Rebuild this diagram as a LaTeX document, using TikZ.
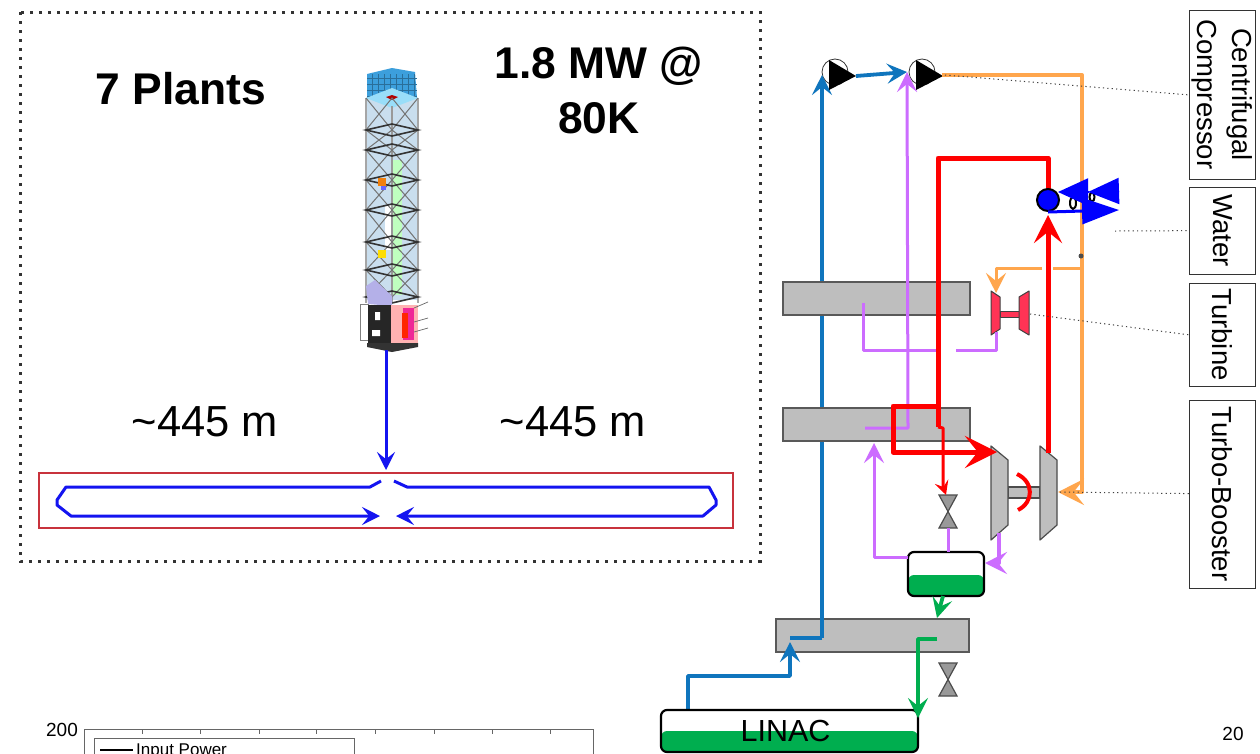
\documentclass[tikz,border=0pt]{standalone}
\usepackage{fontspec}
\setmainfont{Liberation Sans}
\usepackage{tikz}
\usetikzlibrary{arrows.meta,shapes.geometric}
\definecolor{pipeblue}{HTML}{0F75BD}
\definecolor{pipepurple}{HTML}{CC6CFF}
\definecolor{pipeorange}{HTML}{FFA64D}
\definecolor{pipegreen}{HTML}{00AE4F}
\definecolor{barfill}{HTML}{BEBEBE}
\definecolor{ringred}{HTML}{C8323C}
\definecolor{beamblue}{HTML}{1414F0}
\definecolor{turbred}{HTML}{FF3355}
\definecolor{towersky}{HTML}{C9DEEE}
\definecolor{towertop}{HTML}{3C9FDC}
\definecolor{towerlav}{HTML}{B4B0E8}

\begin{document}
\begin{tikzpicture}[x=1pt,y=-1pt,node distance=126pt,
    bar/.style={draw=black!65,fill=barfill,line width=1.2pt,minimum width=187pt,minimum height=33pt,inner sep=0pt},
    tag/.style={draw=black!80,line width=1pt,rotate=-90,inner sep=0pt,align=center,minimum height=66pt,font=\fontsize{27.5}{35}\selectfont},
    big/.style={font=\fontsize{44.4}{55}\selectfont\bfseries,align=center},
    dist/.style={font=\fontsize{43.5}{48}\selectfont},
    tank/.style={draw=black,line width=2.2pt,rounded corners=6pt,inner sep=0pt},
    comp/.style={circle,draw=black!80,line width=.8pt,minimum size=26pt,inner sep=0pt},
    metal/.style={draw=black!70,fill=barfill,line width=1.2pt,line join=round},
    hot metal/.style={draw=black!75,fill=turbred,line width=1pt,line join=round},
    tired/.style={draw=black!70,fill=black!40,line width=1.2pt},
    leader/.style={draw=black!75,line width=1pt,dash pattern=on 1.2pt off 3.2pt},
    pipe/.style={line width=3.8pt,line join=round},
    thin pipe/.style={line width=3pt,line join=round},
    heavy pipe/.style={line width=5pt,line join=round},
    head/.style={-{Stealth[length=#1,width=#1,inset=.4*#1]}},
    head/.default=20pt]
  \clip (0,0) rectangle (1260,753);
  \useasboundingbox (0,0) rectangle (1260,753);
  \fill[white] (0,0) rectangle (1260,753);

  % left panel
  \coordinate (fa) at (20,12);
  \coordinate (fb) at (760,561);
  \draw[black!80,line width=3pt,dash pattern=on 3pt off 6pt] (fa) rectangle (fb);
  \node[big] (plants) at (181,89) {7 Plants};
  \node[big] (power) at (599,90) {1.8 MW @\\80K};
  \node[dist] (lenl) at (205,422) {\textasciitilde445 m};
  \node[dist] (lenr) [right of=lenl,node distance=368pt] {\textasciitilde445 m};

  % tower
  \fill[towersky] (366,98) rectangle (418,300);
  \fill[green!25!white] (392,160) rectangle (402,295);
  \fill[white] (385,205) rectangle (392,250);
  \fill[towertop] (367,74) -- (392,68) -- (415,72) -- (417,98) -- (367,98) -- cycle;
  \draw[towertop!70!black,line width=.6pt,step=6pt] (367,74) grid (417,98);
  \fill[cyan!40!white] (366,98) -- (392,88) -- (418,98) -- (392,108) -- cycle;
  \fill[red!70!black] (386,97) -- (392,95) -- (398,97) -- (392,100) -- cycle;
  \draw[black!35,line width=2.5pt] (366,98) -- (366,303) (418,98) -- (418,303);
  \draw[black!40,line width=1.5pt] (392,106) -- (392,303);
  \foreach \ya/\yb in {98/130,130/150,150/180,180/210,210/242,242/270,270/297}{
    \draw[black!55,line width=1pt] (366,\ya) -- (392,\yb) -- (418,\ya) (366,\yb) -- (392,\ya) -- (418,\yb);
  }
  \foreach \ya in {130,150,180,210,242,270,297}{
    \draw[black!80,line width=1.6pt] (366,\ya) -- (392,\ya+6) -- (418,\ya) -- (392,\ya-6) -- cycle;
  }
  \fill[orange!80!brown] (378,178) rectangle (386,186);
  \fill[yellow!80!orange] (378,250) rectangle (386,258);
  \fill[blue!60] (381,186) rectangle (386,190);
  \fill[towerlav] (366,286) -- (375,280) -- (392,296) -- (392,306) -- (368,304) -- cycle;
  \draw[black!50,fill=white,line width=1pt] (360,304) rectangle (368,340);
  \fill[black!85] (368,305) rectangle (391,344);
  \fill[white] (375,312) rectangle (380,320) (372,330) rectangle (380,336);
  \fill[red!30!white] (391,305) rectangle (418,343);
  \fill[magenta!80!pink] (403,308) rectangle (414,340);
  \fill[red!70!orange] (402,313) rectangle (408,338);
  \fill[black!80] (367,343) -- (418,343) -- (418,347) -- (392,352) -- (367,347) -- cycle;
  \draw[black!60,line width=.7pt] (414,308) -- (428,302) (414,322) -- (428,318) (414,332) -- (428,328);

  % ring
  \coordinate (towerfoot) at (386,350);
  \coordinate (ringin) at (386,470);
  \draw[beamblue,thin pipe,head=18pt] (towerfoot) -- (ringin);
  \node[draw=ringred,line width=2pt,minimum width=694pt,minimum height=55pt,inner sep=0pt] (ring) at (386,500.5) {};
  \draw[beamblue,thin pipe,head=18pt] (381,481) -- (370,487) -- (66,487) -- (57,500) -- (57,505) -- (71,516) -- (380,516);
  \draw[beamblue,thin pipe,head=18pt] (394,481) -- (407,487) -- (709,487) -- (716,500) -- (716,505) -- (703,516) -- (396,516);

  % plot
  \node[font=\fontsize{19}{19}\selectfont] (ymax) at (62,730) {200};
  \node[draw=black!60,line width=.8pt,minimum width=509pt,minimum height=60pt,inner sep=0pt] (plot) at (338.5,759) {};
  \foreach \xt in {142,200,259,316,375,434,492,550}{
    \draw[black!60,line width=.8pt] (\xt,729) -- (\xt,734);
  }
  \node[draw=black!60,line width=.8pt,minimum width=260pt,minimum height=40pt,inner sep=0pt] (legend) at (224,758) {};
  \coordinate (keya) at (100,750);
  \coordinate (keyb) at (133,750);
  \draw[black,line width=2.4pt] (keya) -- (keyb);
  \node[right,inner sep=0pt,font=\fontsize{17}{17}\selectfont] (input) at (136,751) {Input Power};
  \node[font=\fontsize{19}{19}\selectfont] (page) at (1233,734) {20};

  % cycle
  \node[bar,minimum width=193pt] (hxc) at (872.5,635.5) {};
  \coordinate (blubend) at (822,638);
  \coordinate (linacout) at (688,710);
  \coordinate (hxcin) at (790,642);
  \node[comp] (cpa) at (835,72) {};
  \node[comp] (cpb) [right of=cpa,node distance=87pt] {};
  \coordinate (cpain) at (822,75);
  \draw[pipeblue,pipe,head] (blubend) -- (cpain);
  \draw[pipeblue,pipe] (blubend) -- (hxcin |- blubend);
  \draw[pipeblue,pipe,head] (linacout) |- (790,676) -- (hxcin);
  \node[bar] (hxa) at (876.5,298.5) {};
  \node[bar] (hxb) [below of=hxa] {};
  \foreach \cp in {cpa,cpb}{
    \fill[black] ([shift={(-6,-12)}]\cp.center) -- ([shift={(-6,18)}]\cp.center) -- ([shift={(21,4)}]\cp.center) -- cycle;
  }
  \coordinate (cpaout) at (856,76);
  \coordinate (cpbin) at (907,72);
  \coordinate (cpbout) at (942,75);
  \draw[pipeblue,pipe,head] (cpaout) -- (cpbin);

  % vessels
  \node[tank,minimum width=76pt,minimum height=44pt,path picture={\fill[pipegreen] (path picture bounding box.west) ++(0,1) rectangle (path picture bounding box.south east);}] (vessel) at (946,574) {};
  \node[tank,minimum width=257pt,minimum height=42pt,path picture={\fill[pipegreen] (path picture bounding box.west) rectangle (path picture bounding box.south east);},font=\fontsize{30.5}{30}\selectfont] (linac) at (789.5,731) {LINAC\kern8pt};

  % machines
  \draw[metal] (1008,487) rectangle (1040,498);
  \draw[metal] (991,446) -- (1008,460) -- (1008,525) -- (991,540) -- cycle;
  \draw[metal] (1040,446) -- (1057,460) -- (1057,525) -- (1040,540) -- cycle;
  \coordinate (arca) at (1017,474);
  \coordinate (arcb) at (1018,510);
  \draw[red,line width=4pt] (arca) .. controls (1034,482) and (1034,502) .. (arcb);
  \draw[hot metal] (1000,311) rectangle (1019,317);
  \draw[hot metal] (991,291) -- (1000,297) -- (1000,329) -- (991,335) -- cycle;
  \draw[hot metal] (1029,291) -- (1019,297) -- (1019,329) -- (1029,335) -- cycle;
  \foreach \yv in {495,663}{
    \draw[tired] (939,\yv) -- (957,\yv) -- (939,\yv+33) -- (957,\yv+33) -- cycle;
  }

  % purple
  \coordinate (hxbmid) at (865,428);
  \draw[pipepurple,thin pipe,head] (hxbmid) -- (908,428) -- (cpbin);
  \coordinate (hxaend) at (863,303);
  \coordinate (gapa) at (937,350);
  \coordinate (gapb) at (956,350);
  \coordinate (turbout) at (996,332);
  \draw[pipepurple,thin pipe] (hxaend) |- (gapa);
  \draw[pipepurple,thin pipe] (gapb) -| (turbout);
  \coordinate (vesselout) at (908,557);
  \coordinate (hxbin) at (874,443);
  \draw[pipepurple,thin pipe,head] (vesselout) -| (hxbin);
  \coordinate (vesseltop) at (948,552);
  \coordinate (valvelow) at (948,528);
  \draw[pipepurple,thin pipe] (vesseltop) -- (valvelow);
  \coordinate (tboost) at (999,533);
  \coordinate (vesselin) at (985,563);
  \draw[pipepurple,pipe,head=22pt] (tboost) |- (vesselin);

  % orange
  \coordinate (tbin) at (1058,492);
  \coordinate (orcorner) at (1082,75);
  \draw[pipeorange,pipe,head=26pt] (cpbout) -- (orcorner) |- (tbin);
  \coordinate (orleft) at (1082,268);
  \coordinate (orgap) at (1053,268);
  \coordinate (orgapb) at (1042,268);
  \coordinate (turbin) at (996,293);
  \draw[pipeorange,thin pipe] (orleft) -- (orgap);
  \draw[pipeorange,thin pipe,head] (orgapb) -| (turbin);
  \node[circle,fill=black!70,minimum size=5pt,inner sep=0pt] (dot) at (1081,256) {};

  % red
  \coordinate (reda) at (938,427);
  \coordinate (redb) at (1048,158);
  \coordinate (coolin) at (1048,190);
  \draw[red,heavy pipe] (reda) |- (redb) -- (coolin);
  \coordinate (redc) at (938,406);
  \coordinate (redd) at (893,406);
  \coordinate (tbleft) at (997,452);
  \draw[red,heavy pipe,head=32pt] (redc) -- (redd) |- (tbleft);
  \coordinate (tbright) at (1048,453);
  \coordinate (coolout) at (1048,215);
  \draw[red,heavy pipe,head=28pt] (tbright) -- (coolout);
  \coordinate (redthin) at (943,428);
  \coordinate (redlow) at (943,486);
  \coordinate (valvetop) at (946,495);
  \draw[red,thin pipe,head=14pt] (reda) -- (redthin) -- (redlow) -- (valvetop);

  % green
  \coordinate (vesselbot) at (943,596);
  \coordinate (hxcgreen) at (937,618);
  \draw[pipegreen,pipe,head=20pt] (vesselbot) -- (hxcgreen);
  \coordinate (greena) at (937,639);
  \coordinate (greenb) at (918,718);
  \draw[pipegreen,pipe,head=20pt] (greena) -| (greenb);

  % water
  \node[circle,draw=black,fill=blue,line width=2pt,minimum size=22pt,inner sep=0pt] (cool) at (1048,200) {};
  \node[ellipse,draw=black,line width=2pt,minimum width=6pt,minimum height=12pt,inner sep=0pt] (coolb) at (1073,203) {};
  \node[ellipse,draw=black,line width=2pt,minimum width=5pt,minimum height=9pt,inner sep=0pt] (coolc) at (1092,197) {};
  \coordinate (wat) at (1119,191);
  \coordinate (watb) at (1088,192);
  \coordinate (watc) at (1058,192);
  \coordinate (watd) at (1119,210);
  \draw[blue,line width=2pt,-{Triangle[length=30pt,width=27pt]}] (watb) -- (watc);
  \draw[blue,line width=2pt,-{Triangle[length=31pt,width=26pt]}] (wat) -- (watb);
  \draw[blue,line width=3pt,-{Triangle[length=37pt,width=26pt]}] (cool.south) -- (watd);

  % labels
  \node[tag,minimum width=169pt] (lcomp) at (1222.5,94.5) {Centrifugal\\Compressor};
  \node[tag,minimum width=87pt] (lwater) at (1222.5,230.5) {Water};
  \node[tag,minimum width=103pt] (lturb) at (1222.5,334.5) {Turbine};
  \node[tag,minimum width=188pt] (lboost) at (1222.5,494) {Turbo-Booster};
  \coordinate (leada) at (945,75);
  \coordinate (leadb) at (1115,231);
  \coordinate (leadc) at (1030,314);
  \coordinate (leadd) at (1060,492);
  \coordinate (taga) at (1190,95);
  \coordinate (tagc) at (1190,335);
  \draw[leader] (leada) -- (taga);
  \draw[leader] (leadb) -- (lwater);
  \draw[leader] (leadc) -- (tagc);
  \draw[leader] (leadd) -- (lboost);
\end{tikzpicture}
\end{document}
